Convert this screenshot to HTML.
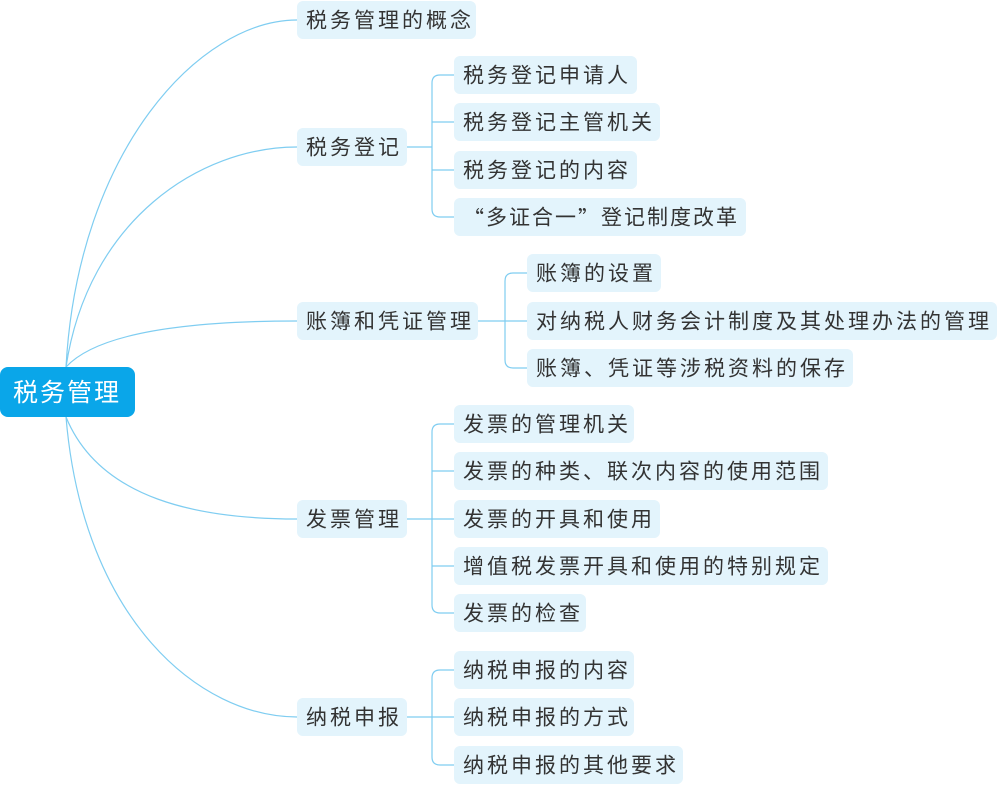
<!DOCTYPE html>
<html><head><meta charset="utf-8"><style>
body{margin:0;background:#fff;width:998px;height:787px;overflow:hidden}
svg{display:block}
.b{fill:#e3f4fc}
.t{font-family:"Liberation Sans","Noto Sans CJK SC",sans-serif;font-size:21px;fill:#333;letter-spacing:3px;dominant-baseline:central}
.q{font-family:"Noto Sans CJK SC",sans-serif}
.l{fill:none;stroke:#7fcdf1;stroke-width:1.2}
</style></head><body>
<svg width="998" height="787" viewBox="0 0 998 787">
<path class="l" d="M66,367 C78,150 200,20 297,20"/>
<path class="l" d="M66,367 C88,220 200,147 297,147"/>
<path class="l" d="M66,367 C100,330 200,321 297,321"/>
<path class="l" d="M66,417 C100,500 200,519 297,519"/>
<path class="l" d="M66,417 C83,620 200,717 297,717"/>
<path class="l" d="M407,147 H432 M454,75 H440 Q432,75 432,83 V209 Q432,217 440,217 H454 M432,122 H454 M432,170 H454"/>
<path class="l" d="M478,321 H505 M527,273 H513 Q505,273 505,281 V360 Q505,368 513,368 H527 M505,321 H527"/>
<path class="l" d="M407,519 H432 M454,424 H440 Q432,424 432,432 V605 Q432,613 440,613 H454 M432,471 H454 M432,519 H454 M432,566 H454"/>
<path class="l" d="M407,717 H432 M454,670 H440 Q432,670 432,678 V757 Q432,765 440,765 H454 M432,717 H454"/>
<rect x="0" y="367" width="135" height="50" rx="8" fill="#0aa6e9"/>
<text x="67" y="393" text-anchor="middle" style="font-family:'Liberation Sans','Noto Sans CJK SC',sans-serif;font-size:25px;fill:#fff;letter-spacing:2px;dominant-baseline:central">税务管理</text>
<g>
<rect class="b" x="297" y="1" width="179" height="38" rx="6"/><text class="t" x="306" y="21">税务管理的概念</text>
<rect class="b" x="297" y="128" width="110" height="38" rx="6"/><text class="t" x="306" y="148">税务登记</text>
<rect class="b" x="454" y="56" width="183" height="38" rx="6"/><text class="t" x="463" y="76">税务登记申请人</text>
<rect class="b" x="454" y="103" width="206" height="38" rx="6"/><text class="t" x="463" y="123">税务登记主管机关</text>
<rect class="b" x="454" y="151" width="183" height="38" rx="6"/><text class="t" x="463" y="171">税务登记的内容</text>
<rect class="b" x="454" y="198" width="292" height="38" rx="6"/><text class="t" x="463" y="218" style="letter-spacing:2px"><tspan class="q">“</tspan>多证合一<tspan class="q">”</tspan>登记制度改革</text>
<rect class="b" x="297" y="302" width="181" height="38" rx="6"/><text class="t" x="306" y="322">账簿和凭证管理</text>
<rect class="b" x="527" y="254" width="134" height="38" rx="6"/><text class="t" x="536" y="274">账簿的设置</text>
<rect class="b" x="527" y="302" width="470" height="38" rx="6"/><text class="t" x="536" y="322">对纳税人财务会计制度及其处理办法的管理</text>
<rect class="b" x="527" y="349" width="326" height="38" rx="6"/><text class="t" x="536" y="369">账簿、凭证等涉税资料的保存</text>
<rect class="b" x="297" y="500" width="110" height="38" rx="6"/><text class="t" x="306" y="520">发票管理</text>
<rect class="b" x="454" y="405" width="180" height="38" rx="6"/><text class="t" x="463" y="425">发票的管理机关</text>
<rect class="b" x="454" y="452" width="374" height="38" rx="6"/><text class="t" x="463" y="472">发票的种类、联次内容的使用范围</text>
<rect class="b" x="454" y="500" width="206" height="38" rx="6"/><text class="t" x="463" y="520">发票的开具和使用</text>
<rect class="b" x="454" y="547" width="374" height="38" rx="6"/><text class="t" x="463" y="567">增值税发票开具和使用的特别规定</text>
<rect class="b" x="454" y="594" width="132" height="38" rx="6"/><text class="t" x="463" y="614">发票的检查</text>
<rect class="b" x="297" y="698" width="110" height="38" rx="6"/><text class="t" x="306" y="718">纳税申报</text>
<rect class="b" x="454" y="651" width="180" height="38" rx="6"/><text class="t" x="463" y="671">纳税申报的内容</text>
<rect class="b" x="454" y="698" width="180" height="38" rx="6"/><text class="t" x="463" y="718">纳税申报的方式</text>
<rect class="b" x="454" y="746" width="229" height="38" rx="6"/><text class="t" x="463" y="766">纳税申报的其他要求</text>
</g>
</svg>
</body></html>
